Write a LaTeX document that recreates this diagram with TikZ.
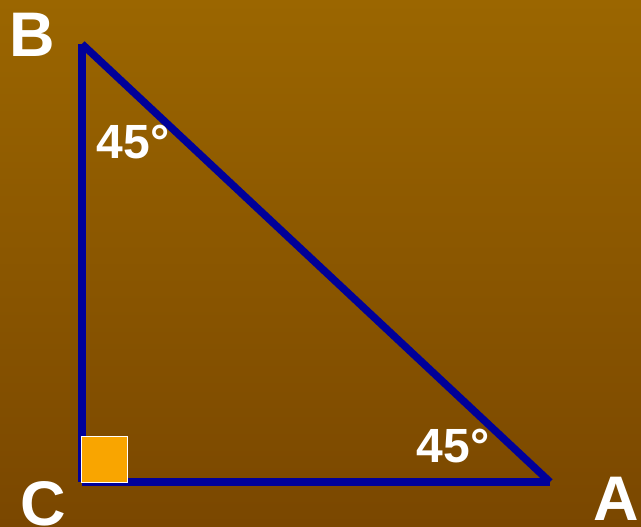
\documentclass[tikz,border=0pt]{standalone}
\usepackage{fontspec}
\setmainfont{Liberation Sans}
\begin{document}
\begin{tikzpicture}[x=1pt,y=-1pt,
  side/.style={draw=edgeblue,line width=7.5pt},
  vlabel/.style={text=white,font=\bfseries\fontsize{63}{63}\selectfont,inner sep=0pt,anchor=base},
  alabel/.style={text=white,font=\bfseries\fontsize{48}{48}\selectfont,inner sep=0pt,anchor=base},
  rightmark/.style={fill=markorange,draw=white,line width=1.5pt}]
\definecolor{bgtop}{HTML}{9B6600}
\definecolor{bgbot}{HTML}{7A4700}
\definecolor{edgeblue}{HTML}{000099}
\definecolor{markorange}{HTML}{F9A500}
\shade[top color=bgtop,bottom color=bgbot] (0,0) rectangle (641,527);
\useasboundingbox (0,0) rectangle (641,527);
\coordinate (B) at (82,44);
\coordinate (C) at (82,482);
\coordinate (A) at (550,482);
\draw[side] (B) -- (C);
\draw[side] (C) -- (A);
\draw[side] (A) -- (B);
\node[rightmark,minimum size=46pt,inner sep=0pt] (sq) at (104.5,459.5) {};
\node[vlabel] (lB) at (32.5,57) {B};
\node[vlabel] (lC) at (43,525) {C};
\node[vlabel] (lA) at (616,520) {A};
\node[alabel] (aB) at (133,158) {45°};
\node[alabel] (aA) at (453,462) {45°};
\end{tikzpicture}
\end{document}
